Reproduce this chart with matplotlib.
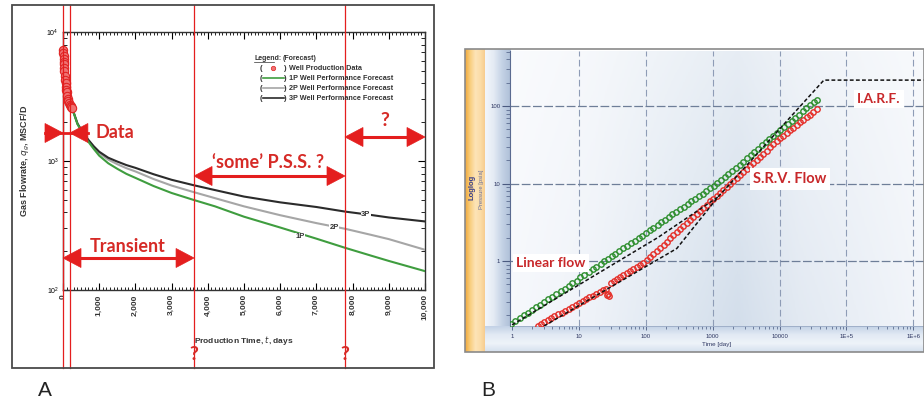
import numpy as np
import matplotlib
matplotlib.use("Agg")
import matplotlib.pyplot as plt
from matplotlib.patches import Rectangle, Polygon
from matplotlib.lines import Line2D
from matplotlib.colors import LinearSegmentedColormap
from matplotlib.ticker import FixedLocator, NullFormatter
import matplotlib.transforms as mtransforms

plt.rcParams['font.family'] = ['Liberation Sans', 'DejaVu Sans']

# ---------------- Panel A data ----------------
forecast_days = [250, 400, 550, 700, 850, 1000, 1250, 1500, 1750, 2000, 2500, 3000,
                 3600, 4200, 5000, 6000, 7000, 7800, 8500, 9000, 10000]
rate_3p = [2580, 1950, 1660, 1460, 1300, 1180, 1060, 990, 930, 885, 790, 715,
           650, 595, 530, 478, 440, 405, 382, 365, 340]
rate_2p = [2580, 1945, 1650, 1440, 1280, 1150, 1025, 945, 880, 830, 725, 645,
           575, 515, 445, 380, 330, 298, 268, 248, 205]
rate_1p = [2580, 1930, 1630, 1410, 1240, 1100, 960, 870, 795, 740, 640, 565,
           500, 445, 370, 305, 250, 212, 185, 168, 140]
prod_days = [5, 10, 15, 20, 25, 30, 35, 40, 50, 60, 70, 80, 90, 100, 115, 130,
             150, 170, 190, 210, 230, 250]
prod_rate = [7200, 6900, 6500, 6200, 5900, 5600, 5300, 5000, 4600, 4250, 4000,
             3750, 3550, 3400, 3200, 3050, 2920, 2820, 2740, 2680, 2630, 2580]
boundary_days = [0, 190, 3620, 7790]
xtick_vals = [0, 1000, 2000, 3000, 4000, 5000, 6000, 7000, 8000, 9000, 10000]
xtick_labels = ['0', '1,000', '2,000', '3,000', '4,000', '5,000', '6,000',
                '7,000', '8,000', '9,000', '10,000']

# ---------------- Panel B data ----------------
green_t = [0.95, 1.1, 1.3, 1.5, 1.7, 2.0, 2.3, 2.6, 3.0, 3.5, 4.0, 4.6, 5.3, 6.1, 7.0,
           8.0, 9.2, 10.5, 12, 14, 16, 18, 21, 24, 27, 31, 35, 40, 46, 52, 60, 68,
           78, 89, 100, 115, 130, 150, 170, 195, 220, 250, 285, 325, 370, 420, 480,
           545, 620, 705, 800, 910, 1030, 1170, 1330, 1510, 1720, 1950, 2220, 2520,
           2860, 3250, 3700, 4200, 4780, 5430, 6170, 7000, 7960, 9040, 10300, 11700,
           13300, 15100, 17100, 19500, 22100, 25100, 28500, 32400, 36000]
green_p = [0.155, 0.169, 0.185, 0.201, 0.215, 0.236, 0.255, 0.273, 0.296, 0.322,
           0.348, 0.376, 0.407, 0.44, 0.476, 0.513, 0.555, 0.617, 0.667, 0.729,
           0.788, 0.843, 0.923, 0.997, 1.067, 1.156, 1.241, 1.341, 1.454, 1.562,
           1.697, 1.824, 1.976, 2.133, 2.3, 2.5, 2.69, 2.93, 3.16, 3.43, 3.69, 3.99,
           4.31, 4.67, 5.04, 5.44, 5.89, 6.37, 6.87, 7.42, 8.01, 8.65, 9.19, 10.08,
           11.05, 12.11, 13.3, 14.56, 15.98, 17.5, 19.17, 21.2, 23.4, 25.6, 28.2,
           31.0, 34.1, 37.4, 41.2, 45.2, 49.0, 53.8, 58.9, 64.6, 70.6, 77.7, 85.0,
           93.2, 102, 112, 121]
red_t = [2.4, 2.7, 3.0, 3.4, 3.8, 4.3, 4.9, 5.5, 6.2, 7.0, 7.9, 8.9, 10, 11.3, 12.7,
         14.3, 16.1, 18.1, 20.4, 23, 25, 26, 27, 28, 30, 33, 37, 41, 46, 52, 58, 65,
         73, 82, 92, 103, 116, 130, 146, 164, 184, 206, 231, 259, 290, 325, 365, 409,
         459, 515, 577, 647, 726, 814, 913, 1020, 1150, 1290, 1440, 1620, 1820, 2040,
         2290, 2560, 2870, 3220, 3620, 4060, 4550, 5100, 5720, 6420, 7200, 8080,
         9060, 10200, 11400, 12800, 14300, 16100, 18000, 20200, 22700, 25400, 28500,
         32000, 36000]
red_p = [0.146, 0.155, 0.163, 0.172, 0.182, 0.193, 0.205, 0.216, 0.229, 0.242,
         0.256, 0.271, 0.286, 0.303, 0.320, 0.339, 0.358, 0.378, 0.400, 0.424, 0.44,
         0.36, 0.38, 0.35, 0.52, 0.557, 0.590, 0.621, 0.658, 0.699, 0.739, 0.782,
         0.829, 0.878, 0.930, 1.024, 1.126, 1.233, 1.353, 1.485, 1.629, 1.782, 1.953,
         2.141, 2.343, 2.568, 2.818, 3.087, 3.387, 3.712, 4.063, 4.454, 4.881, 5.35,
         5.87, 6.39, 7.00, 7.64, 8.31, 9.09, 9.93, 10.83, 11.82, 12.87, 14.04, 15.33,
         16.8, 18.4, 20.2, 22.1, 24.3, 26.6, 29.2, 32.0, 35.0, 38.5, 41.5, 45.0, 48.4,
         52.5, 56.7, 61.3, 66.3, 71.6, 77.5, 83.8, 90.8]
model_upper_t = [1, 150, 1200]
model_upper_p = [0.15, 2.0, 6.7]
model_lower_t = [3, 290, 1200, 46000, 2.0e6]
model_lower_p = [0.145, 1.45, 6.7, 216, 216]
xticksB = [1, 10, 100, 1000, 10000, 1e5, 1e6]
xticksB_labels = ['1', '10', '100', '1000', '10000', '1E+5', '1E+6']
yticksB = [1, 10, 100]

W, H = 924, 404
fig = plt.figure(figsize=(W / 100, H / 100), dpi=100)
fig.patch.set_facecolor('white')


def fx(x):
    return x / W


def fy(y):
    return 1 - y / H


def add_ax(x0, y0, x1, y1, **kw):
    return fig.add_axes([fx(x0), fy(y1), (x1 - x0) / W, (y1 - y0) / H], **kw)


RED = '#e41e1e'
RED_TXT = '#d62a26'

# ================= Panel A =================
fig.add_artist(Rectangle((fx(12), fy(368)), (434 - 12) / W, (368 - 5) / H,
                         transform=fig.transFigure, fill=False, ec='#4a4a4a', lw=1.3))
axA = add_ax(63, 32, 425, 290)
axA.set_yscale('log')
axA.set_xlim(0, 10000)
axA.set_ylim(100, 10000)

axA.plot(forecast_days, rate_2p, color='#a6a6a6', lw=1.5, zorder=3)
axA.plot(forecast_days, rate_3p, color='#2b2b2b', lw=1.5, zorder=3)
axA.plot(forecast_days, rate_1p, color='#3f9d3f', lw=1.5, zorder=3)
axA.plot(prod_days, prod_rate, 'o', ms=6, mfc='#f07272', mec='#e02424', mew=0.8, zorder=4,
         clip_on=False)

lab_kw = dict(fontsize=5.5, fontweight='bold', color='#333333', ha='center', va='center',
              bbox=dict(boxstyle='square,pad=0.05', fc='white', ec='none'), zorder=5)
axA.text(8370, 385, '3P', **lab_kw)
axA.text(7490, 303, '2P', **lab_kw)
axA.text(6550, 258, '1P', **lab_kw)

axA.xaxis.set_major_locator(FixedLocator(xtick_vals))
axA.xaxis.set_minor_locator(FixedLocator(list(range(0, 10001, 100))))
axA.set_xticklabels(xtick_labels, rotation=90, fontsize=6, fontweight='bold', color='#333333')
axA.tick_params(axis='x', which='major', direction='in', length=5, width=0.8, top=True, pad=3)
axA.tick_params(axis='x', which='minor', direction='in', length=2.5, width=0.6, top=True)
axA.tick_params(axis='y', which='major', direction='in', length=5, width=0.8, right=True,
                labelsize=5, pad=3)
axA.tick_params(axis='y', which='minor', direction='in', length=3, width=0.6, right=True)
axA.yaxis.set_minor_formatter(NullFormatter())
for s in axA.spines.values():
    s.set_linewidth(1.0)
    s.set_color('#333333')
axA.set_ylabel(r'Gas Flowrate, $\it{q_g}$, MSCF/D', fontsize=6.5, fontweight='bold', color='#333333')
axA.yaxis.set_label_coords(-(63 - 32) / 362, 0.5)
axA.set_xlabel(r'Production Time, $\it{t}$, days', fontsize=6, fontweight='bold', color='#333333')
axA.xaxis.set_label_coords(0.5, -(334 - 290) / 258)

# legend (manual)
fig.text(fx(254), fy(58), 'Legend:', fontsize=5, fontweight='bold', color='#333', va='center')
fig.add_artist(Line2D([fx(254), fx(274)], [fy(62), fy(62)], color='#333', lw=0.5))
fig.text(fx(283), fy(58), '(Forecast)', fontsize=5, fontweight='bold', color='#333', va='center')
leg_rows = [('Well Production Data', None), ('1P Well Performance Forecast', '#3f9d3f'),
            ('2P Well Performance Forecast', '#a6a6a6'), ('3P Well Performance Forecast', '#2b2b2b')]
for i, (txt, col) in enumerate(leg_rows):
    yy = 68 + 10 * i
    fig.text(fx(260), fy(yy), '(', fontsize=5.5, fontweight='bold', color='#333', va='center')
    fig.text(fx(284), fy(yy), ')', fontsize=5.5, fontweight='bold', color='#333', va='center')
    if col is None:
        fig.add_artist(Line2D([fx(273)], [fy(yy)], marker='o', ms=3.2, mfc='#f07272',
                              mec='#e02424', mew=0.5, ls='none'))
    else:
        fig.add_artist(Line2D([fx(263), fx(284)], [fy(yy), fy(yy)], color=col, lw=1.2))
    fig.text(fx(289), fy(yy), txt, fontsize=5.2, fontweight='bold', color='#333', va='center')

# red boundary lines
trA = mtransforms.blended_transform_factory(axA.transData, fig.transFigure)
for t in boundary_days:
    axA.plot([t, t], [fy(5), fy(368)], transform=trA, color=RED, lw=0.9, clip_on=False, zorder=6)


def tpx(t):
    return 63 + t / 10000 * 362


def tri(tip_x, y, d, L=18, Hh=19):
    pts = [(fx(tip_x), fy(y)), (fx(tip_x - d * L), fy(y - Hh / 2)), (fx(tip_x - d * L), fy(y + Hh / 2))]
    fig.add_artist(Polygon(pts, closed=True, transform=fig.transFigure, fc=RED, ec=RED, lw=0.5))


def out_arrow(x0, x1, y):
    fig.add_artist(Line2D([fx(x0 + 5), fx(x1 - 5)], [fy(y), fy(y)], color=RED, lw=2.2))
    tri(x0, y, -1)
    tri(x1, y, 1)


# Data arrow (inward)
xa, xb = tpx(boundary_days[0]), tpx(boundary_days[1])
fig.add_artist(Line2D([fx(xa - 18), fx(xb + 18)], [fy(133), fy(133)], color=RED, lw=2.0))
tri(xa, 133, 1)
tri(xb, 133, -1)
fig.text(fx(115), fy(133), 'Data', fontsize=13, color=RED_TXT, ha='center', va='center',
         family=['Lato', 'DejaVu Sans'], fontweight='bold')

out_arrow(tpx(boundary_days[0]), tpx(boundary_days[2]), 258)
fig.text(fx(128), fy(246), 'Transient', fontsize=13, color=RED_TXT, ha='center', va='center',
         family=['Lato', 'DejaVu Sans'], fontweight='bold')
out_arrow(tpx(boundary_days[2]), tpx(boundary_days[3]), 176)
fig.text(fx(268), fy(162), '\u2018some\u2019 P.S.S. ?', fontsize=13, color=RED_TXT, ha='center',
         va='center', family=['Lato', 'DejaVu Sans'], fontweight='bold')
out_arrow(tpx(boundary_days[3]), tpx(10000), 137)
fig.text(fx(385), fy(121), '?', fontsize=14, color=RED_TXT, ha='center', va='center',
         family=['Lato', 'DejaVu Sans'], fontweight='bold')
for t in boundary_days[2:]:
    fig.text(fx(tpx(t)), fy(354), '?', fontsize=14, color=RED_TXT, ha='center', va='center',
             family=['Lato', 'DejaVu Sans'], fontweight='bold')

fig.text(fx(45), fy(390), 'A', fontsize=15, ha='center', va='center', color='#222')
fig.text(fx(488), fy(390), 'B', fontsize=15, ha='center', va='center', color='#222')

# ================= Panel B =================
axO = add_ax(465, 49, 485, 352)
og = LinearSegmentedColormap.from_list('og', ['#f0a83a', '#f8cf80', '#fde4b8', '#fbdca6', '#f6c98a'])
axO.imshow(np.linspace(0, 1, 64)[None, :], cmap=og, aspect='auto', extent=[0, 1, 0, 1])
axO.axis('off')
axL = add_ax(485, 49, 510, 326)
lb = LinearSegmentedColormap.from_list('lb', ['#f3f6fb', '#e4ebf4', '#c4d2e5', '#aebfd8'])
axL.imshow(np.linspace(0, 1, 64)[None, :], cmap=lb, aspect='auto', extent=[0, 1, 0, 1])
axL.axis('off')
axBot = add_ax(485, 326, 924, 352)
bb = LinearSegmentedColormap.from_list('bb', ['#c3d2e6', '#e2eaf4', '#eef3f9', '#d5e0ee'])
axBot.imshow(np.linspace(0, 1, 64)[:, None], cmap=bb, aspect='auto', extent=[0, 1, 0, 1])
axBot.axis('off')

axBg = add_ax(510, 51, 924, 326)
bgc = LinearSegmentedColormap.from_list('bg', [(0, '#f6f8fc'), (0.2, '#eef2f8'), (0.42, '#dde6f0'),
                                               (0.55, '#d3deeb'), (0.7, '#e2e9f2'), (1, '#f2f5fa')])
prof = bgc(np.linspace(0, 1, 400))[:, :3]
vw = np.linspace(0.45, 0.0, 200)[:, None, None]
img = prof[None, :, :] * (1 - vw) + vw * np.ones(3)
axBg.imshow(img, aspect='auto', extent=[0, 1, 0, 1], origin='upper')
axBg.axis('off')

fig.add_artist(Rectangle((fx(465), fy(352)), (924 - 465) / W, (352 - 49) / H,
                         transform=fig.transFigure, fill=False, ec='#8a8a8a', lw=1.2))

fig.text(fx(472), fy(187), 'Loglog', rotation=90, fontsize=5.5, fontweight='bold',
         color='#3a3f8a', ha='center', va='center')
fig.text(fx(481), fy(189), 'Pressure [psia]', rotation=90, fontsize=4.2, color='#6a6f9a',
         ha='center', va='center')

axB = add_ax(510, 51, 924, 326)
axB.set_facecolor('none')
axB.set_xscale('log')
axB.set_yscale('log')
axB.set_xlim(0.93, 10 ** 6.16)
axB.set_ylim(0.145, 513)

for xv in xticksB[1:]:
    axB.axvline(xv, color='#8e9cb6', lw=0.8, ls=(0, (6, 3)), zorder=1)
for yv in yticksB:
    axB.axhline(yv, color='#6e7e98', lw=0.9, ls=(0, (7, 2)), zorder=1)

axB.plot(red_t, red_p, 'o', mfc='none', mec='#e5302a', ms=3.9, mew=1.0, zorder=3)
axB.plot(green_t, green_p, 'o', mfc='none', mec='#2f8f2f', ms=3.9, mew=1.0, zorder=3)
axB.plot(model_upper_t, model_upper_p, color='#111111', lw=1.1, ls=(0, (2.5, 1.5)), zorder=4)
axB.plot(model_lower_t, model_lower_p, color='#111111', lw=1.1, ls=(0, (2.5, 1.5)), zorder=4)

boxkw = dict(boxstyle='square,pad=0.25', fc='white', ec='none')
fig.text(fx(551), fy(263), 'Linear flow', fontsize=10, fontweight='bold', color='#c8282a',
         ha='center', va='center', family=['Lato', 'DejaVu Sans'], bbox=boxkw, zorder=10)
fig.text(fx(790), fy(179), 'S.R.V. Flow', fontsize=10.5, fontweight='bold', color='#c8282a',
         ha='center', va='center', family=['Lato', 'DejaVu Sans'], bbox=boxkw, zorder=10)
fig.text(fx(879), fy(99), 'I.A.R.F.', fontsize=10, fontweight='bold', color='#c8282a',
         ha='center', va='center', family=['Lato', 'DejaVu Sans'], bbox=boxkw, zorder=10)

axB.set_xticks(xticksB)
axB.set_xticklabels(xticksB_labels)
axB.set_yticks(yticksB)
axB.set_yticklabels([str(v) for v in yticksB])
axB.xaxis.set_minor_formatter(NullFormatter())
axB.yaxis.set_minor_formatter(NullFormatter())
axB.tick_params(axis='x', which='major', direction='out', length=3, width=0.6, colors='#4a5a80',
                labelsize=4.3, labelcolor='#2c3560', pad=3)
axB.tick_params(axis='x', which='minor', direction='out', length=2, width=0.5, colors='#4a5a80')
axB.tick_params(axis='y', which='major', direction='out', length=6, width=0.8, colors='#4a5a80',
                labelsize=4.3, labelcolor='#2c3560', pad=1)
axB.tick_params(axis='y', which='minor', direction='out', length=3, width=0.5, colors='#4a5a80')
for k in ['top', 'right']:
    axB.spines[k].set_visible(False)
axB.spines['left'].set_color('#5a6a90')
axB.spines['left'].set_linewidth(0.8)
axB.spines['bottom'].set_color('#9aaac4')
axB.spines['bottom'].set_linewidth(0.6)
axB.set_xlabel('Time [day]', fontsize=4.5, color='#2c3560', labelpad=2)

fig.savefig('out.png', dpi=100)
